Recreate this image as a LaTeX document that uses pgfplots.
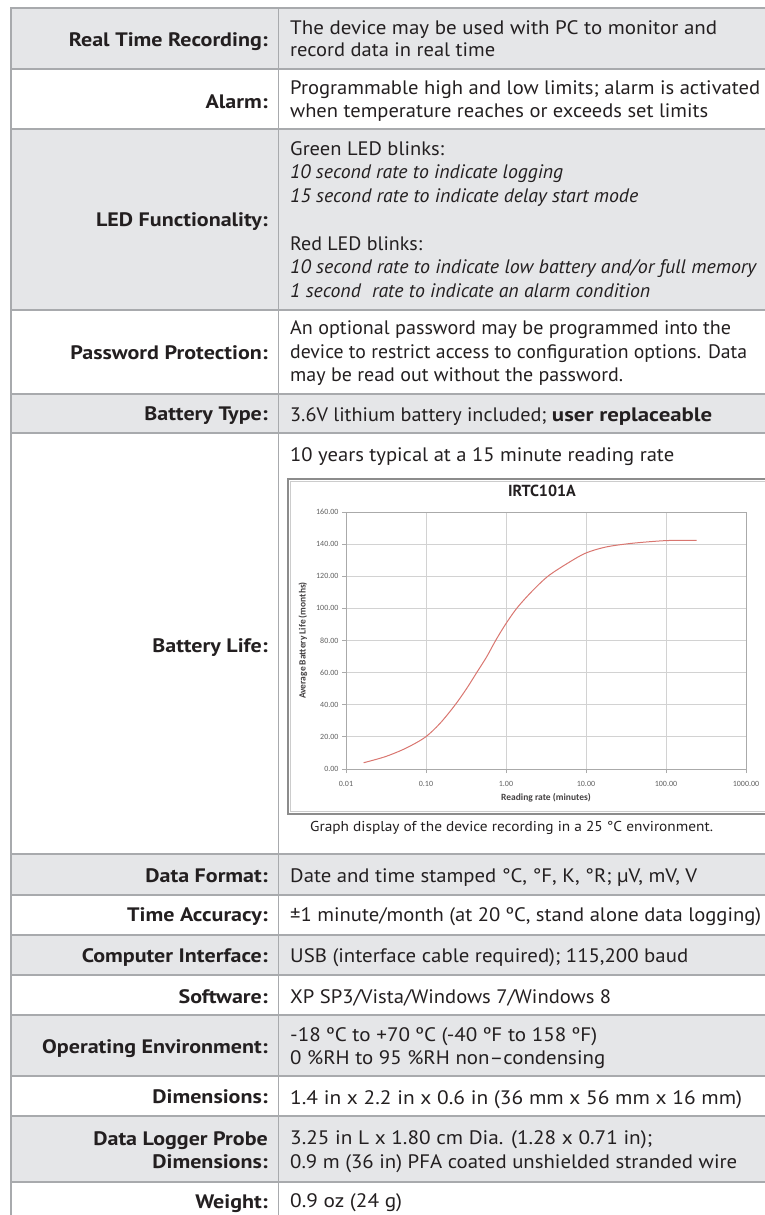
\documentclass[border=0pt]{standalone}
\usepackage{fontspec}
\setmainfont{PT Sans}[BoldFeatures={FakeStretch=1.13}]
\newfontfamily\titlefont{PT Sans Bold}
\newfontfamily\chartfont{Carlito}
\usepackage{graphicx}
\usepackage{pgfplots}
\pgfplotsset{compat=1.18}
\definecolor{rowgray}{RGB}{229,230,232}
\definecolor{rulec}{RGB}{168,170,173}
\definecolor{txt}{RGB}{35,31,32}
\definecolor{curvec}{RGB}{217,118,112}
\definecolor{gridc}{RGB}{210,210,210}
\definecolor{axisc}{RGB}{170,170,170}
\definecolor{tickc}{RGB}{95,95,95}
\newcommand\tf{\fontsize{19.5}{23}\selectfont}
\newcommand\LL[2]{\node[anchor=base east,inner sep=0pt,text=txt,font=\tf\bfseries] at (268,#1) {#2};}
\newcommand\VV[3]{\node[anchor=base west,inner sep=0pt,text=txt,font=\tf] at (290,#1) {\resizebox{#2pt}{\height}{#3}};}
\newcommand\VI[3]{\node[anchor=base west,inner sep=0pt,text=txt,font=\tf\itshape] at (290,#1) {\resizebox{#2pt}{\height}{#3}};}

\pgfplotstableread{
x y
0.0166 3.9
0.031 7.7
0.0552 12.8
0.0972 19.7
0.1496 28.4
0.2304 39.8
0.323 50.2
0.43 60
0.574 69.9
0.74 79.9
0.972 89.6
1.36 100
2.09 110.4
3.38 120.2
6.3 129
10 134.5
17.7 138.2
37.3 140.5
100 142.2
241 142.4
}\batterydata

\begin{document}
\begin{tikzpicture}[x=1pt,y=1pt]
\path[use as bounding box] (0,0) rectangle (765,-1215);
\begin{scope}[y=-1pt]
\fill[rowgray] (11,8) rectangle (765,69);
\fill[rowgray] (11,129) rectangle (765,310);
\fill[rowgray] (11,394) rectangle (765,433);
\fill[rowgray] (11,854) rectangle (765,895);
\fill[rowgray] (11,935) rectangle (765,975);
\fill[rowgray] (11,1015) rectangle (765,1076);
\fill[rowgray] (11,1116) rectangle (765,1182);
\foreach \yy in {8,69,129,310,394,433,854,895,935,975,1015,1076,1116,1182}
  \draw[rulec, line width=1.5pt] (11,\yy) -- (765,\yy);
\draw[rulec, line width=1.5pt] (11,7.25) -- (11,1215);
\draw[rulec, line width=1.5pt] (278.5,7.25) -- (278.5,1215);
% chart frame
\draw[black!45, line width=1.6pt] (288,479) rectangle (770,814);
\draw[black!20, line width=0.8pt] (290.5,481.5) rectangle (770,811.5);
% labels
\LL{46.7}{Real Time Recording:}
\LL{108}{Alarm:}
\LL{226.5}{LED Functionality:}
\LL{359}{Password Protection:}
\LL{420.5}{Battery Type:}
\LL{652}{Battery Life:}
\LL{882.5}{Data Format:}
\LL{921.7}{Time Accuracy:}
\LL{962.5}{Computer Interface:}
\LL{1003}{Software:}
\LL{1053}{Operating Environment:}
\LL{1103.5}{Dimensions:}
\LL{1145}{Data Logger Probe}
\LL{1168.3}{Dimensions:}
\LL{1208}{Weight:}
% values
\VV{34.5}{427}{The device may be used with PC to monitor and}
\VV{56.5}{205}{record data in real time}
\VV{95}{470}{Programmable high and low limits; alarm is activated}
\VV{117.5}{418}{when temperature reaches or exceeds set limits}
\VV{155}{154}{Green LED blinks:}
\VI{178.5}{273}{10 second rate to indicate logging}
\VI{202}{348}{15 second rate to indicate delay start mode}
\VV{250}{132}{Red LED blinks:}
\VI{273.5}{466}{10 second rate to indicate low battery and/or full memory}
\VI{297}{360}{1 second\hspace{0.3em} rate to indicate an alarm condition}
\VV{334}{441}{An optional password may be programmed into the}
\VV{358}{457}{device to restrict access to configuration options. Data}
\VV{381.5}{333}{may be read out without the password.}
\VV{421}{422}{3.6V lithium battery included; \textbf{user replaceable}}
\VV{461}{384}{10 years typical at a 15 minute reading rate}
\node[anchor=base west,inner sep=0pt,text=txt,font=\fontsize{14.3}{16}\selectfont] at (310,831.5) {\resizebox{403pt}{\height}{Graph display of the device recording in a 25 °C environment.}};
\VV{882.5}{407}{Date and time stamped °C, °F, K, °R; µV, mV, V}
\VV{921.7}{471}{±1 minute/month (at 20 ºC, stand alone data logging)}
\VV{962}{398}{USB (interface cable required); 115,200 baud}
\VV{1003}{321}{XP SP3/Vista/Windows 7/Windows 8}
\VV{1041}{307}{-18 ºC to +70 ºC (-40 ºF to 158 ºF)}
\VV{1064.5}{315}{0 \%RH to 95 \%RH non–condensing}
\VV{1104.5}{452}{1.4 in x 2.2 in x 0.6 in (36 mm x 56 mm x 16 mm)}
\VV{1144.5}{362}{3.25 in L x 1.80 cm Dia. (1.28 x 0.71 in);}
\VV{1168.3}{447}{0.9 m (36 in) PFA coated unshielded stranded wire}
\VV{1207.5}{112}{0.9 oz (24 g)}
\end{scope}
\begin{axis}[
  at={(346pt,-769pt)}, anchor=south west,
  width=400pt, height=257pt, scale only axis,
  xmode=log, xmin=0.01, xmax=1000, ymin=0, ymax=160,
  xtick={0.01,0.1,1,10,100,1000},
  xticklabels={0.01,0.10,1.00,10.00,100.00,1000.00},
  ytick={0,20,40,60,80,100,120,140,160},
  yticklabels={0.00,20.00,40.00,60.00,80.00,100.00,120.00,140.00,160.00},
  xminorticks=false,
  grid=major, major grid style={gridc, line width=0.8pt},
  axis line style={axisc, line width=0.8pt},
  tick align=outside, major tick length=4pt,
  tick style={axisc, line width=0.8pt},
  xtick pos=lower, ytick pos=left,
  ticklabel style={font=\chartfont\fontsize{8}{8}\selectfont, text=tickc},
  xticklabel style={yshift=-4.5pt},
  title={IRTC101A},
  title style={font=\titlefont\fontsize{16}{16}\selectfont, text=txt, at={(axis description cs:0.49,1.06)}, anchor=center, yshift=0pt},
  xlabel={Reading rate (minutes)},
  xlabel style={font=\chartfont\bfseries\fontsize{9.5}{10}\selectfont, text=txt!85, at={(axis description cs:0.5,-0.113)}, anchor=center},
  ylabel={Average Battery Life (months)},
  ylabel style={font=\chartfont\bfseries\fontsize{9.5}{10}\selectfont, text=txt!85, at={(axis description cs:-0.1075,0.5)}, anchor=center},
]
\addplot[curvec, line width=1pt, smooth, no markers] table[x=x,y=y] {\batterydata};
\end{axis}
\end{tikzpicture}
\end{document}
